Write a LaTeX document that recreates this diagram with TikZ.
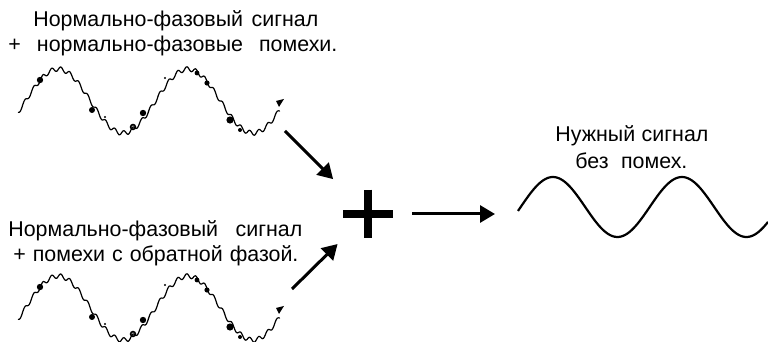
\documentclass[tikz,border=0pt]{standalone}
\usepackage{fontspec}
\setmainfont{Liberation Sans}
\usetikzlibrary{positioning,arrows.meta}
\newcommand{\fitline}[2]{\makebox[#1][s]{#2}}

\begin{document}
\begin{tikzpicture}[x=0.5pt, y=-0.5pt,
    txt/.style = {anchor=base west, inner sep=0pt, font=\fontsize{10.7}{12}\selectfont},
    noisy/.style = {line width=0.6pt},
    clean/.style = {line width=1.1pt},
    arr/.style = {line width=1.5pt, -{Triangle[length=7.5pt, width=8.5pt]}},
    bar/.style = {line width=4pt},
    sum/.style = {minimum width=24.5pt, minimum height=24pt, inner sep=0pt}]
    \useasboundingbox (0,0) rectangle (768,342);
    % labels
    \node[txt] (t1a) at (33,27) {\fitline{142.5pt}{Нормально-фазовый сигнал}};
    \node[txt] (t1b) at (8,52) {\fitline{164.5pt}{+ нормально-фазовые помехи.}};
    \node[txt] (t2a) at (8,237) {\fitline{147pt}{Нормально-фазовый сигнал}};
    \node[txt] (t2b) at (13,262) {\fitline{142.5pt}{+ помехи с обратной фазой.}};
    \node[txt] (t3a) at (555,142) {\fitline{76.5pt}{Нужный сигнал}};
    \node[txt] (t3b) at (575,169) {\fitline{56pt}{без помех.}};
    % noisy inputs
    \foreach \dy in {0,207} {
        \begin{scope}[shift={(0,\dy)}]
            \draw[noisy] plot[domain=18:280, samples=320, smooth]
                (\x, {101 - 32*sin(2.7692*(\x-25.5)) + 2.3*sin(40*\x)});
            \fill (40,80) circle (1.6pt) (92,110) circle (1.5pt)
                (143,113) circle (1.6pt) (197,73) circle (1.2pt)
                (207,83) circle (1.3pt) (230,120) circle (1.8pt)
                (240,130) circle (1pt)
                (105,117) circle (0.6pt) (165,78) circle (0.6pt);
            \draw[line width=0.8pt] (133,127) circle (1.2pt);
            \fill (276,101) -- (284,99) -- (279,107) -- cycle;
        \end{scope}
    }
    \coordinate (from1) at (285,131);
    \coordinate (from2) at (292,289);
    % sum
    \node[sum] (sum) at (368,214) {};
    \draw[bar] (sum.west) -- (sum.east);
    \draw[bar] (sum.north) -- (sum.south);
    \draw[arr, shorten >=7.4pt] (from1) -- (sum);
    \draw[arr, shorten >=4pt] (from2) -- (sum);
    % clean output
    \coordinate (out) at (518,214);
    \draw[arr, shorten <=9.75pt, shorten >=11.5pt] (sum.east) -- (sum.east -| out);
    \draw[clean] plot[domain=518:768, samples=120, smooth]
        (\x, {207 - 30*sin(2.7907*(\x-520.7))});
\end{tikzpicture}
\end{document}
